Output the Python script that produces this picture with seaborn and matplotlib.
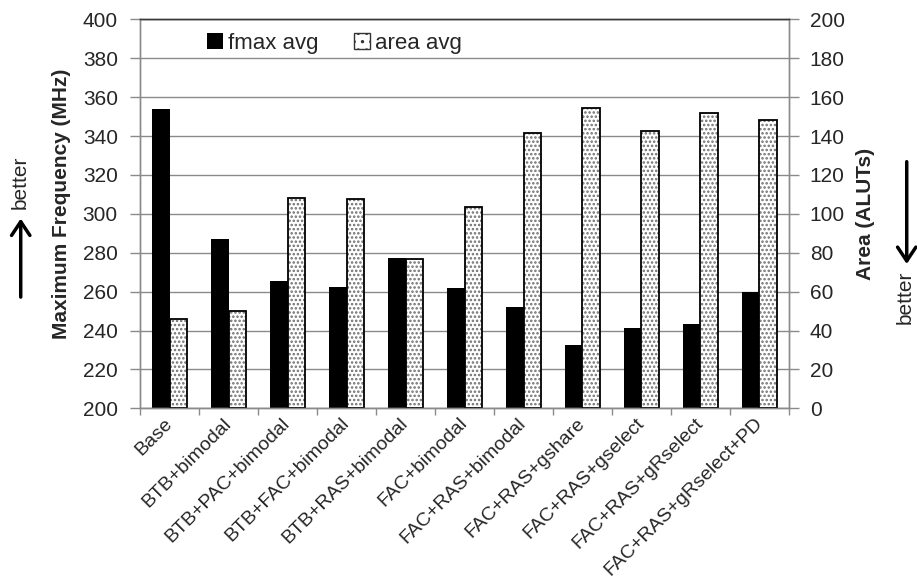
import matplotlib
matplotlib.use("Agg")
import matplotlib.pyplot as plt
import pandas as pd
import seaborn as sns
from matplotlib.patches import Rectangle, FancyArrowPatch, Patch

# ---- data -------------------------------------------------------------
configs = [
    "Base", "BTB+bimodal", "BTB+PAC+bimodal", "BTB+FAC+bimodal",
    "BTB+RAS+bimodal", "FAC+bimodal", "FAC+RAS+bimodal", "FAC+RAS+gshare",
    "FAC+RAS+gselect", "FAC+RAS+gRselect", "FAC+RAS+gRselect+PD",
]
fmax_avg = [354, 287, 265.6, 262.4, 277.4, 261.9, 252.2, 232.8, 241.5, 243.3, 259.8]
area_avg = [46, 50, 108, 107.5, 77, 103.4, 141.6, 154.5, 142.7, 151.6, 148]
series = ["fmax avg", "area avg"]
freq_ticks = list(range(200, 401, 20))
area_ticks = list(range(0, 201, 20))

# ---- style ------------------------------------------------------------
sns.set_theme(style="white")
plt.rcParams["font.family"] = ["Liberation Sans", "DejaVu Sans"]
plt.rcParams["hatch.linewidth"] = 1.2
FS = 15
GRID = "#8a8a8a"
DOTS = "#6e6e6e"
HATCH = "...."

df_f = pd.DataFrame({"config": configs, "value": fmax_avg, "series": series[0]})
df_a = pd.DataFrame({"config": configs, "value": area_avg, "series": series[1]})
palette = {series[0]: "black", series[1]: "white"}

fig = plt.figure(figsize=(9.17, 5.8), dpi=100)
ax = fig.add_axes([0.1527, 0.296, 0.7077, 0.6707])

# frequency bars (left axis)
sns.barplot(data=df_f, x="config", y="value", hue="series", hue_order=series,
            order=configs, palette=palette, width=0.58, gap=0, dodge=True,
            saturation=1, legend=False, ax=ax)
for p in ax.patches:
    p.set_edgecolor("none")
    p.set_linewidth(0)

# area bars (right axis)
ax2 = ax.twinx()
sns.barplot(data=df_a, x="config", y="value", hue="series", hue_order=series,
            order=configs, palette=palette, width=0.58, gap=0, dodge=True,
            saturation=1, legend=False, ax=ax2)
for p in list(ax2.patches):
    p.set_facecolor("white")
    p.set_edgecolor(DOTS)
    p.set_hatch(HATCH)
    p.set_linewidth(0)
    ax2.add_patch(Rectangle(p.get_xy(), p.get_width(), p.get_height(),
                            fill=False, edgecolor="black", linewidth=1.3,
                            zorder=p.get_zorder() + 0.1))

# ---- axes -------------------------------------------------------------
ax.set_ylim(200, 400)
ax.set_yticks(freq_ticks)
ax2.set_ylim(0, 200)
ax2.set_yticks(area_ticks)
ax.set_xlim(-0.5, len(configs) - 0.5)

ax.set_axisbelow(True)
ax.yaxis.grid(True, color=GRID, linewidth=1)
ax.xaxis.grid(False)
ax2.grid(False)

for a in (ax, ax2):
    for s in a.spines.values():
        s.set_color(GRID)
        s.set_linewidth(1)
    a.spines["top"].set_color("#3a3a3a")

ax.tick_params(axis="y", direction="out", length=7, width=1, color=GRID,
               labelsize=FS, pad=9, left=True)
ax2.tick_params(axis="y", direction="out", length=7, width=1, color=GRID,
                labelsize=FS, pad=8, right=True)

ax.set_xticks(range(len(configs)))
ax.set_xticklabels(configs, rotation=45, ha="right", rotation_mode="anchor",
                   va="center", fontsize=14)
ax.set_xticks([i - 0.5 for i in range(len(configs) + 1)], minor=True)
ax.tick_params(axis="x", which="major", length=0, pad=9)
ax.tick_params(axis="x", which="minor", direction="out", length=5, width=1,
               color=GRID, bottom=True)
ax.set_xlabel("")
ax2.set_xlabel("")

ax.set_ylabel("Maximum Frequency (MHz)", fontsize=FS, fontweight="bold", labelpad=4)
ax.yaxis.set_label_coords(-0.107, 0.525)
ax2.set_ylabel("Area (ALUTs)", fontsize=FS, fontweight="bold", labelpad=8)

# ---- legend -----------------------------------------------------------
handles = [
    Patch(facecolor="black", edgecolor="black", linewidth=0),
    Patch(facecolor="white", edgecolor="#333333", hatch="..", linewidth=1),
]
ax2.legend(handles, series, loc="center", bbox_to_anchor=(0.3, 0.939),
           ncol=2, frameon=False, fontsize=16, handlelength=0.7,
           handleheight=0.7, handletextpad=0.25, columnspacing=1.6)

# ---- "better" direction hints ------------------------------------------
fig.text(0.022, 0.686, "better", rotation=90, ha="center", va="center", fontsize=FS)
fig.add_artist(FancyArrowPatch((0.0226, 0.483), (0.0226, 0.628),
                               transform=fig.transFigure,
                               arrowstyle="->,head_length=0.45,head_width=0.3",
                               mutation_scale=22, linewidth=2.5, color="black"))
fig.text(0.987, 0.488, "better", rotation=90, ha="center", va="center", fontsize=FS)
fig.add_artist(FancyArrowPatch((0.9888, 0.726), (0.9888, 0.540),
                               transform=fig.transFigure,
                               arrowstyle="->,head_length=0.45,head_width=0.3",
                               mutation_scale=22, linewidth=2.5, color="black"))

fig.savefig("out.png", dpi=100)
